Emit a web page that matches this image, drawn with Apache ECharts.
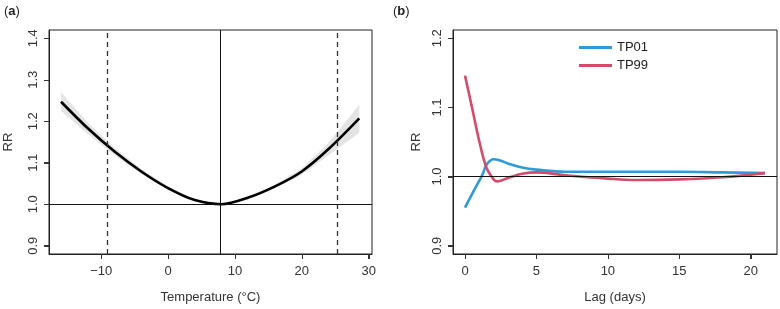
<!DOCTYPE html>
<html>
<head>
<meta charset="utf-8">
<script src="https://cdn.jsdelivr.net/npm/echarts@6/dist/echarts.min.js"></script>
<style>
  html, body { margin: 0; padding: 0; background: #fff; }
  #chart { width: 780px; height: 309px; }
</style>
</head>
<body>
<div id="chart"></div>
<script>
// panel (a): overall cumulative curve
var tempX = [-16, -12, -8, -4, 0, 4, 8, 12, 16, 20, 24, 28.6];
var rrA   = [1.247, 1.183, 1.127, 1.079, 1.039, 1.010, 1.000, 1.016, 1.043, 1.079, 1.133, 1.207];
var lowA  = [1.225, 1.169, 1.118, 1.073, 1.035, 1.008, 1.000, 1.014, 1.039, 1.071, 1.118, 1.172];
var upA   = [1.270, 1.197, 1.136, 1.085, 1.043, 1.012, 1.000, 1.018, 1.047, 1.087, 1.148, 1.240];
var mmt = 7.8;
var pctLines = [-9.1, 25.3];
var xTicksA = [-10, 0, 10, 20, 30];
var yTicksA = [0.9, 1.0, 1.1, 1.2, 1.3, 1.4];
var xRangeA = [-17.8, 30.5];
var yRangeA = [0.88, 1.42];

// panel (b): lag-response
var lag01 = [0, 0.5, 1, 1.25, 1.5, 2, 2.5, 3, 4, 5, 7, 10, 15, 18, 21];
var tp01  = [0.955, 0.975, 0.994, 1.004, 1.017, 1.025, 1.023, 1.019, 1.013, 1.010, 1.007, 1.007, 1.007, 1.006, 1.005];
var lag99 = [0, 0.5, 1, 1.5, 2, 2.25, 3, 4, 5, 7, 10, 12, 15, 18, 21];
var tp99  = [1.146, 1.099, 1.051, 1.013, 0.996, 0.993, 0.998, 1.004, 1.006, 1.002, 0.997, 0.995, 0.996, 0.999, 1.005];
var xTicksB = [0, 5, 10, 15, 20];
var yTicksB = [0.9, 1.0, 1.1, 1.2];
var xRangeB = [-0.84, 21.84];
var yRangeB = [0.888, 1.212];

function pairs(xs, ys) { return xs.map(function (x, i) { return [x, ys[i]]; }); }
function minus(v) { return String(v).replace('-', '\u2212'); }

var txt = '#333';
var font = 'Liberation Sans, Arial, sans-serif';

function xAxisCfg(idx, range, ticks, name) {
  return {
    gridIndex: idx, type: 'value', min: range[0], max: range[1],
    name: name, nameLocation: 'middle', nameGap: 37,
    nameTextStyle: { color: txt, fontSize: 13, fontFamily: font },
    axisLine: { show: true, onZero: false, lineStyle: { color: '#222' } },
    axisTick: { show: true, length: 5, customValues: ticks, lineStyle: { color: '#333', width: 1 } },
    axisLabel: { customValues: ticks, margin: 11, color: txt, fontSize: 13, fontFamily: font, formatter: minus },
    splitLine: { show: false }
  };
}
function yAxisCfg(idx, range, ticks, gap) {
  return {
    gridIndex: idx, type: 'value', min: range[0], max: range[1],
    name: 'RR', nameLocation: 'middle', nameGap: gap,
    nameTextStyle: { color: txt, fontSize: 13, fontFamily: font },
    axisLine: { show: true, onZero: false, lineStyle: { color: '#222' } },
    axisTick: { show: true, length: 5, customValues: ticks, lineStyle: { color: '#333', width: 1 } },
    axisLabel: { customValues: ticks, rotate: 90, margin: 9, color: txt, fontSize: 13, fontFamily: font,
      formatter: function (v) { return v.toFixed(1); } },
    splitLine: { show: false }
  };
}

// confidence band as one polygon through the axis scales
function bandItem(params, api) {
  if (params.dataIndexInside !== 0) return null;
  var upper = [], lower = [];
  for (var i = 0; i < tempX.length; i++) {
    upper.push(api.coord([tempX[i], upA[i]]));
    lower.unshift(api.coord([tempX[i], lowA[i]]));
  }
  return {
    type: 'polygon',
    shape: { points: upper.concat(lower) },
    style: { fill: '#e4e4e4' },
    silent: true
  };
}

var panelLabels = [
  { type: 'text', left: 4, top: 5, style: { text: '{n|(}{b|a}{n|)}', rich: {
    n: { fontSize: 13, fontFamily: font, fill: '#222' }, b: { fontSize: 13, fontWeight: 'bold', fontFamily: font, fill: '#222' } } } },
  { type: 'text', left: 393, top: 5, style: { text: '{n|(}{b|b}{n|)}', rich: {
    n: { fontSize: 13, fontFamily: font, fill: '#222' }, b: { fontSize: 13, fontWeight: 'bold', fontFamily: font, fill: '#222' } } } }
];

var option = {
  animation: false,
  graphic: panelLabels,
  legend: {
    left: 574, top: 36, orient: 'vertical', itemGap: 5,
    itemWidth: 33, itemHeight: 3, icon: 'rect',
    textStyle: { color: '#222', fontSize: 13, fontFamily: font },
    data: ['TP01', 'TP99']
  },
  grid: [
    { left: 49, top: 30, width: 323, height: 227, show: true, borderColor: '#222', borderWidth: 1 },
    { left: 453, top: 30, width: 324, height: 227, show: true, borderColor: '#222', borderWidth: 1 }
  ],
  xAxis: [
    xAxisCfg(0, xRangeA, xTicksA, 'Temperature (\u00B0C)'),
    xAxisCfg(1, xRangeB, xTicksB, 'Lag (days)')
  ],
  yAxis: [
    yAxisCfg(0, yRangeA, yTicksA, 34),
    yAxisCfg(1, yRangeB, yTicksB, 30)
  ],
  series: [
    { type: 'custom', xAxisIndex: 0, yAxisIndex: 0, data: pairs(tempX, rrA), renderItem: bandItem,
      silent: true, z: 1 },
    { type: 'line', xAxisIndex: 0, yAxisIndex: 0, data: pairs(tempX, rrA), smooth: 0.3,
      symbol: 'none', lineStyle: { color: '#000', width: 2.6 }, z: 4,
      markLine: { silent: true, symbol: 'none', label: { show: false },
        data: [
          { yAxis: 1.0, lineStyle: { color: '#111', width: 1, type: 'solid' } },
          { xAxis: mmt, lineStyle: { color: '#111', width: 1, type: 'solid' } },
          { xAxis: pctLines[0], lineStyle: { color: '#333', width: 1.3, type: [5, 4] } },
          { xAxis: pctLines[1], lineStyle: { color: '#333', width: 1.3, type: [5, 4] } }
        ] } },
    { name: 'TP01', type: 'line', xAxisIndex: 1, yAxisIndex: 1, data: pairs(lag01, tp01), smooth: 0.4,
      symbol: 'none', color: '#2E9AD9', lineStyle: { color: '#2E9AD9', width: 2.6 }, z: 3,
      markLine: { silent: true, symbol: 'none', label: { show: false },
        data: [{ yAxis: 1.0, lineStyle: { color: '#111', width: 1, type: 'solid' } }] } },
    { name: 'TP99', type: 'line', xAxisIndex: 1, yAxisIndex: 1, data: pairs(lag99, tp99), smooth: 0.4,
      symbol: 'none', color: '#D14D69', lineStyle: { color: '#D14D69', width: 2.6 }, z: 4 }
  ]
};

var chart = echarts.init(document.getElementById('chart'), null, { renderer: 'canvas' });
chart.setOption(option);

// outward R-style tick marks, positioned with the chart's own scales
function tickGraphics(idx, xTicks, yTicks, xRange, yRange) {
  var out = [];
  xTicks.forEach(function (t) {
    var p = chart.convertToPixel({ gridIndex: idx }, [t, yRange[0]]);
    var x = Math.round(p[0]) + 0.5;
    out.push({ type: 'line', z: 100, silent: true, shape: { x1: x, y1: p[1], x2: x, y2: p[1] + 5 },
      style: { stroke: '#333', lineWidth: 1 } });
  });
  yTicks.forEach(function (t) {
    var p = chart.convertToPixel({ gridIndex: idx }, [xRange[0], t]);
    var y = Math.round(p[1]) + 0.5;
    out.push({ type: 'line', z: 100, silent: true, shape: { x1: p[0] - 5, y1: y, x2: p[0], y2: y },
      style: { stroke: '#333', lineWidth: 1 } });
  });
  return out;
}
chart.setOption({
  graphic: panelLabels
    .concat(tickGraphics(0, xTicksA, yTicksA, xRangeA, yRangeA))
    .concat(tickGraphics(1, xTicksB, yTicksB, xRangeB, yRangeB))
}, { replaceMerge: ['graphic'] });
</script>
</body>
</html>
